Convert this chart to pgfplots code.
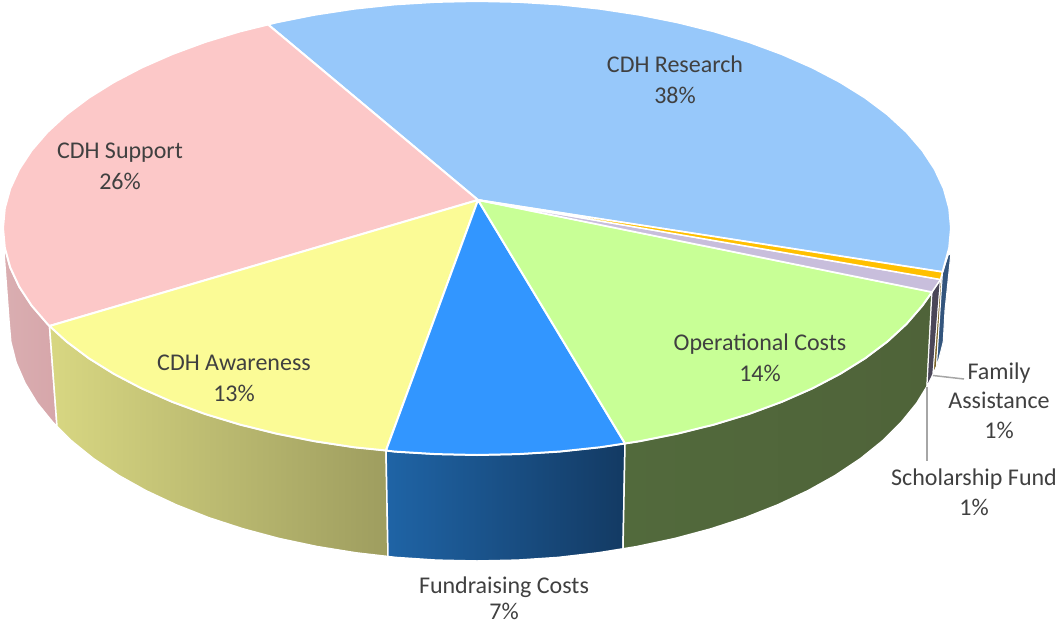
\documentclass[border=0pt]{standalone}
\usepackage{fontspec}
\setmainfont{Carlito}
\usepackage{pgfplots}
\pgfplotsset{compat=1.18}
\definecolor{txt}{HTML}{404040}
\definecolor{leader}{HTML}{A6A6A6}
\definecolor{tR}{HTML}{97C8FA}
\definecolor{tS}{HTML}{FCC8C8}
\definecolor{tA}{HTML}{FBFB96}
\definecolor{tF}{HTML}{3296FF}
\definecolor{tO}{HTML}{C8FF96}
\definecolor{tL}{HTML}{C8BEDC}
\definecolor{tG}{HTML}{FFC000}
\definecolor{sS1}{HTML}{DAAEB1}
\definecolor{sS2}{HTML}{D6A6AA}
\definecolor{sA1}{HTML}{D8D782}
\definecolor{sA2}{HTML}{9E9D5F}
\definecolor{sF1}{HTML}{1F64A6}
\definecolor{sF2}{HTML}{133A63}
\definecolor{sO1}{HTML}{526A3C}
\definecolor{sO2}{HTML}{4F6339}
\definecolor{sL}{HTML}{4A4658}
\definecolor{sG}{HTML}{7A6428}
\definecolor{sR}{HTML}{33557D}
\newcommand{\lab}[3]{\node[text=txt,align=center,inner sep=0pt,font=\fontsize{24}{30}\selectfont] at (axis cs:#1,#2) {#3};}
\begin{document}
\begin{tikzpicture}
\useasboundingbox (0,0) rectangle (1057pt,624pt);
\begin{axis}[hide axis,scale only axis,width=1057pt,height=624pt,xmin=0,xmax=1057,ymin=0,ymax=624,y dir=reverse,clip=true,
  every axis plot/.append style={line join=round}]
% side walls
\addplot[draw=white,line width=1.5pt,left color=sS1,right color=sS2] coordinates {(4,253)(6,252)(10.2,267.4)(19.2,286.7)(31.6,305.6)(47.4,323.9)(49.5,326)(57,426.5)(52.9,422.4)(37.2,403.1)(25,383.1)(16.1,362.7)(10.8,341.9)(9,321)} -- cycle;
\addplot[draw=white,line width=1.5pt,left color=sA1,right color=sA2] coordinates {(49.5,326)(66.5,341.5)(88.7,358.2)(113.9,373.9)(141.8,388.5)(172.3,401.9)(205.1,414)(240,424.6)(276.7,433.7)(314.9,441.3)(354.3,447.3)(386,450.5)(388,556.5)(355.9,552.8)(316.9,546.5)(279.2,538.5)(243,528.8)(208.6,517.6)(176.2,504.8)(146.1,490.7)(118.5,475.3)(93.6,458.7)(71.7,441)(57,426.5)} -- cycle;
\addplot[draw=white,line width=1.5pt,left color=sF1,right color=sF2] coordinates {(386,450.5)(394.7,451.6)(435.7,454.1)(477,455)(518.3,454.1)(559.3,451.6)(599.7,447.3)(625,443.5)(623,548.8)(598.1,552.8)(558.2,557.4)(517.8,560.1)(477,561)(436.2,560.1)(395.8,557.4)(388,556.5)} -- cycle;
\addplot[draw=white,line width=1.5pt,left color=sO1,right color=sO2] coordinates {(625,443.5)(639.1,441.3)(677.3,433.7)(714,424.6)(748.9,414)(781.7,401.9)(812.2,388.5)(840.1,373.9)(865.3,358.2)(887.5,341.5)(906.6,323.9)(922.4,305.6)(932,292)(927,386.4)(916.8,403.1)(901.1,422.4)(882.3,441)(860.4,458.7)(835.5,475.3)(807.9,490.7)(777.8,504.8)(745.4,517.6)(711,528.8)(674.8,538.5)(637.1,546.5)(623,548.8)} -- cycle;
\addplot[draw=white,line width=1pt,fill=sL] coordinates {(932,292)(940.5,279.5)(933,374)(927,386.4)} -- cycle;
\addplot[draw=white,line width=1pt,fill=sG] coordinates {(940.5,279.5)(942.5,272)(936.5,366)(933,374)} -- cycle;
\addplot[draw=white,line width=1pt,fill=sR] coordinates {(942.5,272)(948.6,254)(950.7,255)(945,310)(943.2,341.9)(937.9,362.7)(936.5,366)} -- cycle;
% top faces
\addplot[draw=white,line width=2pt,fill=tR] coordinates {(478,200)(942.5,272)(943.8,267.4)(949.2,247.8)(951,228)(949.2,208.2)(943.8,188.6)(934.8,169.3)(922.4,150.4)(906.6,132.1)(887.5,114.5)(865.3,97.8)(840.1,82.1)(812.2,67.5)(781.7,54.1)(748.9,42)(714,31.4)(677.3,22.3)(639.1,14.7)(599.7,8.7)(559.3,4.4)(518.3,1.9)(477,1)(435.7,1.9)(394.7,4.4)(354.3,8.7)(314.9,14.7)(276.7,22.3)(268,24.5)} -- cycle;
\addplot[draw=white,line width=2pt,fill=tS] coordinates {(478,200)(268,24.5)(240,31.4)(205.1,42)(172.3,54.1)(141.8,67.5)(113.9,82.1)(88.7,97.8)(66.5,114.5)(47.4,132.1)(31.6,150.4)(19.2,169.3)(10.2,188.6)(4.8,208.2)(3,228)(4.8,247.8)(10.2,267.4)(19.2,286.7)(31.6,305.6)(47.4,323.9)(49.5,326)} -- cycle;
\addplot[draw=white,line width=2pt,fill=tA] coordinates {(478,200)(49.5,326)(66.5,341.5)(88.7,358.2)(113.9,373.9)(141.8,388.5)(172.3,401.9)(205.1,414)(240,424.6)(276.7,433.7)(314.9,441.3)(354.3,447.3)(386,450.5)} -- cycle;
\addplot[draw=white,line width=2pt,fill=tF] coordinates {(478,200)(386,450.5)(394.7,451.6)(435.7,454.1)(477,455)(518.3,454.1)(559.3,451.6)(599.7,447.3)(625,443.5)} -- cycle;
\addplot[draw=white,line width=2pt,fill=tO] coordinates {(478,200)(625,443.5)(639.1,441.3)(677.3,433.7)(714,424.6)(748.9,414)(781.7,401.9)(812.2,388.5)(840.1,373.9)(865.3,358.2)(887.5,341.5)(906.6,323.9)(922.4,305.6)(932,292)} -- cycle;
\addplot[draw=white,line width=1.5pt,fill=tL] coordinates {(478,200)(932,292)(940.5,279.5)} -- cycle;
\addplot[draw=white,line width=1.5pt,fill=tG] coordinates {(478,200)(940.5,279.5)(942.5,272)} -- cycle;
% leaders
\addplot[draw=leader,line width=1.5pt] coordinates {(933,375.5)(964,379)};
\addplot[draw=leader,line width=1.5pt] coordinates {(927,387)(927,461)};
% labels
\lab{675}{64}{CDH Research}
\lab{675}{95}{38\%}
\lab{120}{153}{CDH Support}
\lab{120}{181}{26\%}
\lab{234}{363}{CDH Awareness}
\lab{234}{393}{13\%}
\lab{760}{344}{Operational Costs}
\lab{760}{373}{14\%}
\lab{999}{373}{Family}
\lab{999}{400}{Assistance}
\lab{999}{430}{1\%}
\lab{974}{479}{Scholarship Fund}
\lab{974}{507}{1\%}
\lab{504}{587}{Fundraising Costs}
\lab{504}{611.5}{7\%}
\end{axis}
\end{tikzpicture}
\end{document}
